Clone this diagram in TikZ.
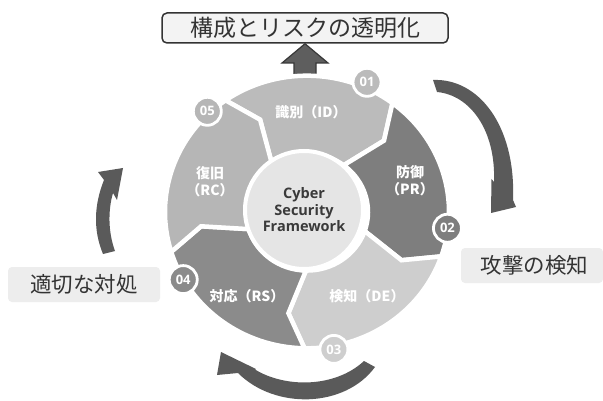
\documentclass[tikz,border=0pt]{standalone}
\usepackage{fontspec}
\setmainfont{Noto Sans CJK JP}
\newfontfamily\latinsans{Open Sans}
\usetikzlibrary{calc}
\definecolor{arrowgray}{HTML}{5A5A5A}
\definecolor{segID}{HTML}{BBBBBB}
\definecolor{segPR}{HTML}{7E7E7E}
\definecolor{segDE}{HTML}{CECECE}
\definecolor{segRS}{HTML}{8B8B8B}
\definecolor{segRC}{HTML}{B6B6B6}
\definecolor{hubfill}{HTML}{E5E5E5}
\definecolor{hubtext}{HTML}{3A3A3A}
\definecolor{textdark}{HTML}{333333}
\definecolor{boxfill}{HTML}{EDEDED}
\definecolor{titlefill}{HTML}{F3F3F3}
\definecolor{blockfill}{HTML}{5E5E5E}
\definecolor{blockedge}{HTML}{383838}
\tikzset{
  seg/.style={draw=white, line width=4.5pt, line join=miter},
  numcirc/.style={circle, draw=white, line width=2.8pt, minimum size=28pt, inner sep=0pt,
    text=white, font=\latinsans\bfseries\fontsize{13}{13}\selectfont},
  seglabel/.style={text=white, font=\bfseries\fontsize{14}{17}\selectfont, align=center, inner sep=0pt},
  sidebox/.style={rounded corners=4pt, fill=boxfill, text=textdark,
    font=\fontsize{21.5}{21.5}\selectfont, inner sep=0pt},
  curvearrow/.style={fill=arrowgray},
}
\begin{document}
\begin{tikzpicture}[x=1pt,y=-1pt]
\useasboundingbox (0,0) rectangle (603,401);
\fill[white] (0,0) rectangle (603,401);

% title box
\node[draw=textdark, line width=1.5pt, fill=titlefill, rounded corners=5pt,
  minimum width=286pt, minimum height=30pt, inner sep=0pt,
  font=\fontsize{23}{23}\selectfont, text=textdark] (title) at (305,28) {構成とリスクの透明化};

% block arrow up to the title
\coordinate (arrowbase) at (305,82);
\filldraw[fill=blockfill, draw=blockedge, line width=1.2pt, line join=miter]
  ($(arrowbase)+(-11,0)$) -- ($(arrowbase)+(-11,-19)$) -- ($(arrowbase)+(-23,-19)$)
  -- (title.south) -- ($(arrowbase)+(23,-19)$) -- ($(arrowbase)+(11,-19)$)
  -- ($(arrowbase)+(11,0)$) -- cycle;

% wheel segments
\begin{scope}[shift={(307,212)}, yscale=-0.96]
  \foreach \b/\c in {125/segID, 53/segPR, -19/segDE, -91/segRS, -163/segRC}{
    \filldraw[seg, fill=\c] (\b:142) arc[start angle=\b, end angle=\b-72, radius=142]
      -- (\b-81:107) -- (\b-72:61) arc[start angle=\b-72, end angle=\b, radius=61]
      -- (\b-9:107) -- cycle;
  }
\end{scope}
\begin{scope}[shift={(307,211)}, yscale=-1]
  \node[numcirc, fill=segID] (n01) at (65:142) {01};
  \node[numcirc, fill=segPR] (n02) at (-7:141.5) {02};
  \node[numcirc, fill=segDE] (n03) at (-79:141) {03};
  \node[numcirc, fill=segRS] (n04) at (-151:141.5) {04};
  \node[numcirc, fill=segRC] (n05) at (135:141) {05};
\end{scope}

% hub
\node[circle, fill=hubfill, draw=white, line width=4pt, minimum size=118pt, inner sep=0pt,
  text=hubtext, align=center, font=\latinsans\bfseries\fontsize{14.5}{16.5}\selectfont]
  (hub) at (304,210) {Cyber\\Security\\Framework};

% segment labels
\node[seglabel] (lid) at (311,112) {識別（ID）};
\node[seglabel] (lpr) at (410,181) {防御\\（PR）};
\node[seglabel] (lde) at (367,296) {検知（DE）};
\node[seglabel] (lrs) at (247,296) {対応（RS）};
\node[seglabel] (lrc) at (210,182) {復旧\\（RC）};

% curved arrows
\fill[curvearrow] (433,80) .. controls (478,78) and (516,125) .. (513,200)
  -- (516,207) -- (491,213) -- (491.5,179) -- (494,182)
  .. controls (496,130) and (470,95) .. (437,92) -- cycle;
\fill[curvearrow] (375,367) .. controls (345,408) and (275,410) .. (238,373)
  -- (217,375) -- (221,352) -- (256,369) -- (255,369.5)
  .. controls (285,388) and (335,388) .. (364,361) -- cycle;
\fill[curvearrow] (103,254) .. controls (93,230) and (94,205) .. (104,180)
  -- (98,172) -- (123,168) -- (117,200) -- (113,193)
  .. controls (108,210) and (108,232) .. (115,251) -- cycle;

% side boxes
\node[sidebox, minimum width=152pt, minimum height=35pt] (lbox) at (84,284.5) {適切な対処};
\node[sidebox, minimum width=142pt, minimum height=35pt] (rbox) at (532,265.5) {\hspace{5pt}攻撃の検知};
\end{tikzpicture}
\end{document}
